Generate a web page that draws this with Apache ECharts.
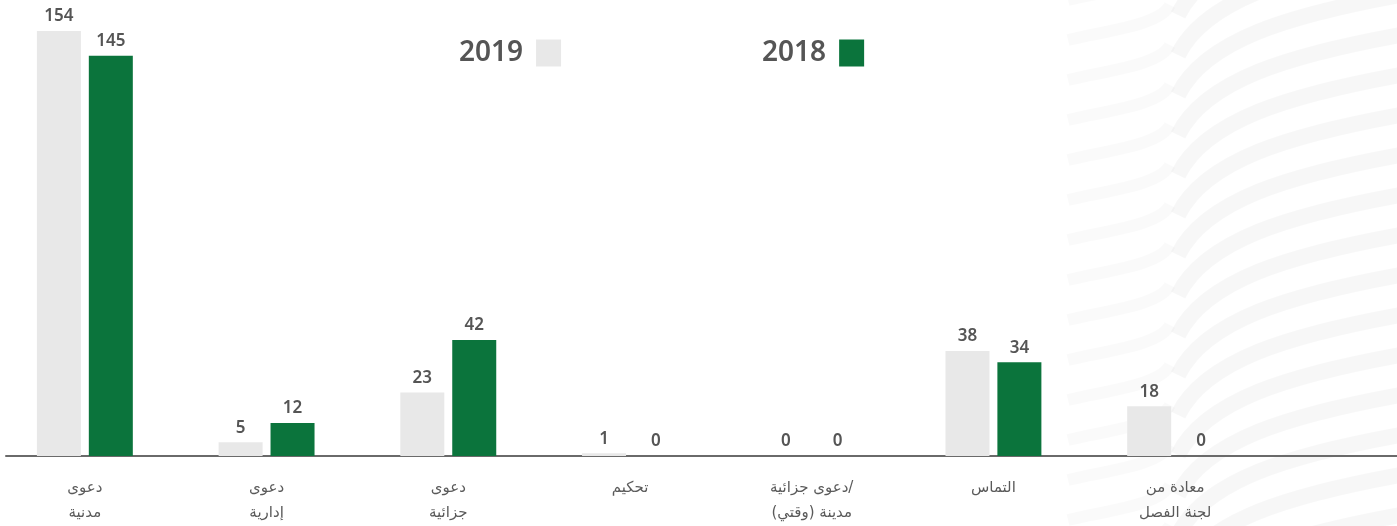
<!DOCTYPE html>
<html>
<head>
<meta charset="utf-8">
<script src="https://cdn.jsdelivr.net/npm/echarts@6/dist/echarts.min.js"></script>
<style>
  html, body { margin: 0; padding: 0; background: #fff; overflow: hidden; }
  #chart { width: 1403px; height: 526px; margin-left: -6px; }
</style>
</head>
<body>
<div id="chart"></div>
<script>
  const categories = ['دعوى\nمدنية', 'دعوى\nإدارية', 'دعوى\nجزائية', 'تحكيم', 'دعوى جزائية/\nمدينة (وقتي)', 'التماس', 'معادة من\nلجنة الفصل'];
  const data2019 = [154, 5, 23, 1, 0, 38, 18];
  const data2018 = [145, 12, 42, 0, 0, 34, 0];

  const gray = '#e8e8e8';
  const green = '#0b743c';
  const textColor = '#555555';

  // faint decorative stripes on the right
  const deco = [];
  for (let y = -40; y < 600; y += 40) {
    deco.push({
      type: 'bezierCurve', silent: true, z: -10,
      shape: {x1: 1184, y1: y + 55, cpx1: 1211, cpy1: y, cpx2: 1296, cpy2: y - 25, x2: 1406, y2: y - 45},
      style: {stroke: 'rgba(0,0,0,0.03)', lineWidth: 16, fill: null}
    });
    deco.push({
      type: 'bezierCurve', silent: true, z: -10,
      shape: {x1: 1074, y1: y + 40, cpx1: 1116, cpy1: y + 30, cpx2: 1166, cpy2: y + 25, x2: 1176, y2: y + 5},
      style: {stroke: 'rgba(0,0,0,0.02)', lineWidth: 12, fill: null}
    });
  }

  const chart = echarts.init(document.getElementById('chart'));
  const labelStyle = {
    show: true,
    position: 'top',
    distance: 6,
    color: textColor,
    fontSize: 17,
    fontWeight: 600,
    fontFamily: 'Noto Sans'
  };
  chart.setOption({
    animation: false,
    graphic: deco,
    legend: {
      data: ['2019', '2018'],
      left: 460,
      top: 34,
      align: 'right',
      itemWidth: 25,
      itemHeight: 27,
      itemGap: 201,
      icon: 'rect',
      textStyle: {
        color: textColor,
        fontSize: 28,
        fontWeight: 600,
        fontFamily: 'Noto Sans',
        padding: [0, 8, 0, 0]
      }
    },
    grid: [
      {left: 0, right: 131, top: 14.4, bottom: 70},
      {left: 12, right: 0, top: 14.4, bottom: 70}
    ],
    xAxis: [
      {
        type: 'category',
        data: categories,
        gridIndex: 0,
        axisLine: {show: false},
        axisTick: {show: false},
        axisLabel: {
          interval: 0,
          margin: 20,
          color: '#5a5a5a',
          fontSize: 15,
          lineHeight: 25,
          fontFamily: 'DejaVu Sans'
        }
      },
      {
        type: 'category',
        data: [''],
        gridIndex: 1,
        axisLine: {show: true, lineStyle: {color: '#6a6a6a', width: 2}},
        axisTick: {show: false},
        axisLabel: {show: false}
      }
    ],
    yAxis: [
      {type: 'value', gridIndex: 0, min: 0, max: 160, show: false},
      {type: 'value', gridIndex: 1, min: 0, max: 160, show: false}
    ],
    series: [
      {
        name: '2019',
        type: 'bar',
        data: data2019,
        barWidth: 44,
        barGap: '18%',
        itemStyle: {color: gray},
        label: labelStyle
      },
      {
        name: '2018',
        type: 'bar',
        data: data2018,
        barWidth: 44,
        itemStyle: {color: green},
        label: labelStyle
      }
    ]
  });
</script>
</body>
</html>
